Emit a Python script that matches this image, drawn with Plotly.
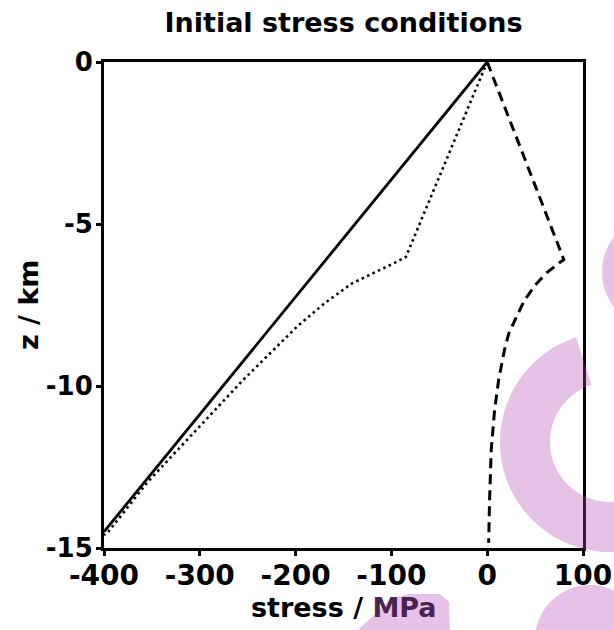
import numpy as np
import plotly.graph_objects as go

# ---------------- data ----------------
solid_stress = [0, -400]
solid_z = [0, -14.5]

dotted_stress = [0, -85, -98, -110, -141, -170, -199, -255, -307, -355, -396, -400]
dotted_z = [0, -6.02, -6.22, -6.39, -6.83, -7.45, -8.18, -9.82, -11.45, -12.98, -14.52, -14.6]

dashed_stress = [0, 80, 76, 62, 50, 39, 30.5, 22.5, 18, 12, 7.7, 4.2, 2.5, 1.5]
dashed_z = [0, -6.1, -6.18, -6.51, -6.89, -7.35, -7.87, -8.38, -8.89, -9.8, -10.74, -11.97, -13.5, -14.84]

title_text = "Initial stress conditions"
x_title = "stress / <span style='color:#4a2350'>MPa</span>"
y_title = "z / km"
x_ticks = [-400, -300, -200, -100, 0, 100]
x_ticktext = ["-400", "-300", "-200", "-100", "0", "100"]
y_ticks = [0, -5, -10, -15]
y_ticktext = ["0", "-5", "-10", "-15"]

# ---------------- figure ----------------
W, H = 614, 630
L, R, T, B = 104, 31, 62, 82
FONT = "DejaVu Sans"

fig = go.Figure()
fig.add_trace(go.Scatter(x=solid_stress, y=solid_z, mode="lines",
                         line=dict(color="black", width=2.8), showlegend=False))
fig.add_trace(go.Scatter(x=dotted_stress, y=dotted_z, mode="lines",
                         line=dict(color="black", width=2.6, dash="2.5px,3.5px"), showlegend=False))
fig.add_trace(go.Scatter(x=dashed_stress, y=dashed_z, mode="lines",
                         line=dict(color="black", width=3, dash="10px,6px"), showlegend=False))

pw, ph = W - L - R, H - T - B


def to_paper(px, py):
    return (px - L) / pw, (H - B - py) / ph


def path_from_pixels(pts):
    s = []
    for i, (px, py) in enumerate(pts):
        xx, yy = to_paper(px, py)
        s.append(("M" if i == 0 else "L") + f"{xx:.4f},{yy:.4f}")
    return " ".join(s) + " Z"


wm = "rgba(178,69,178,0.33)"
# ring (watermark)
cx, cy, ro, ri = 610, 442, 110, 60
a = np.radians(np.linspace(108, 420, 120))
outer = [(cx + ro * np.cos(t), cy - ro * np.sin(t)) for t in a]
inner = [(cx + ri * np.cos(t), cy - ri * np.sin(t)) for t in a[::-1]]
shapes = [dict(type="path", xref="paper", yref="paper", path=path_from_pixels(outer + inner),
               fillcolor=wm, line=dict(width=0), layer="above")]
# blobs (watermark)
for (bx, by, br) in [(660, 272, 58), (590, 640, 55)]:
    b = np.radians(np.linspace(0, 360, 80))
    shapes.append(dict(type="path", xref="paper", yref="paper",
                       path=path_from_pixels([(bx + br * np.cos(t), by - br * np.sin(t)) for t in b]),
                       fillcolor=wm, line=dict(width=0), layer="above"))
shapes.append(dict(type="path", xref="paper", yref="paper",
                   path=path_from_pixels([(356, 632), (392, 598), (410, 594), (440, 594), (449, 602), (450, 632)]),
                   fillcolor=wm, line=dict(width=0), layer="above"))

axis_common = dict(showline=True, linewidth=3, linecolor="black", mirror=True,
                   showgrid=False, zeroline=False, ticks="outside", ticklen=5, tickwidth=3,
                   tickcolor="black")

fig.update_layout(
    width=W, height=H,
    margin=dict(l=L, r=R, t=T, b=B, autoexpand=False),
    paper_bgcolor="white", plot_bgcolor="white",
    title=dict(text=title_text, x=(L + pw / 2) / W, xanchor="center", xref="container",
               y=1 - 23 / H, yanchor="middle", yref="container",
               font=dict(family=FONT, size=27, color="black", weight="bold")),
    xaxis=dict(range=[-400, 100], tickvals=x_ticks, ticktext=x_ticktext, ticklabelstandoff=-5,
               tickfont=dict(family=FONT, size=28, color="black", weight="bold"),
               **axis_common),
    yaxis=dict(range=[-15, 0], tickvals=y_ticks, ticktext=y_ticktext, ticklabelstandoff=-2,
               tickfont=dict(family=FONT, size=26, color="black", weight="bold"),
               **axis_common),
    shapes=shapes,
    annotations=[
        dict(text=x_title, xref="paper", yref="paper", x=0.5, y=to_paper(0, 607)[1],
             xanchor="center", yanchor="middle", showarrow=False,
             font=dict(family=FONT, size=27, color="black", weight="bold")),
        dict(text=y_title, xref="paper", yref="paper", x=to_paper(28, 0)[0], y=0.5,
             xanchor="center", yanchor="middle", showarrow=False, textangle=-90,
             font=dict(family=FONT, size=27, color="black", weight="bold")),
    ],
)

fig.write_html("out.html")
